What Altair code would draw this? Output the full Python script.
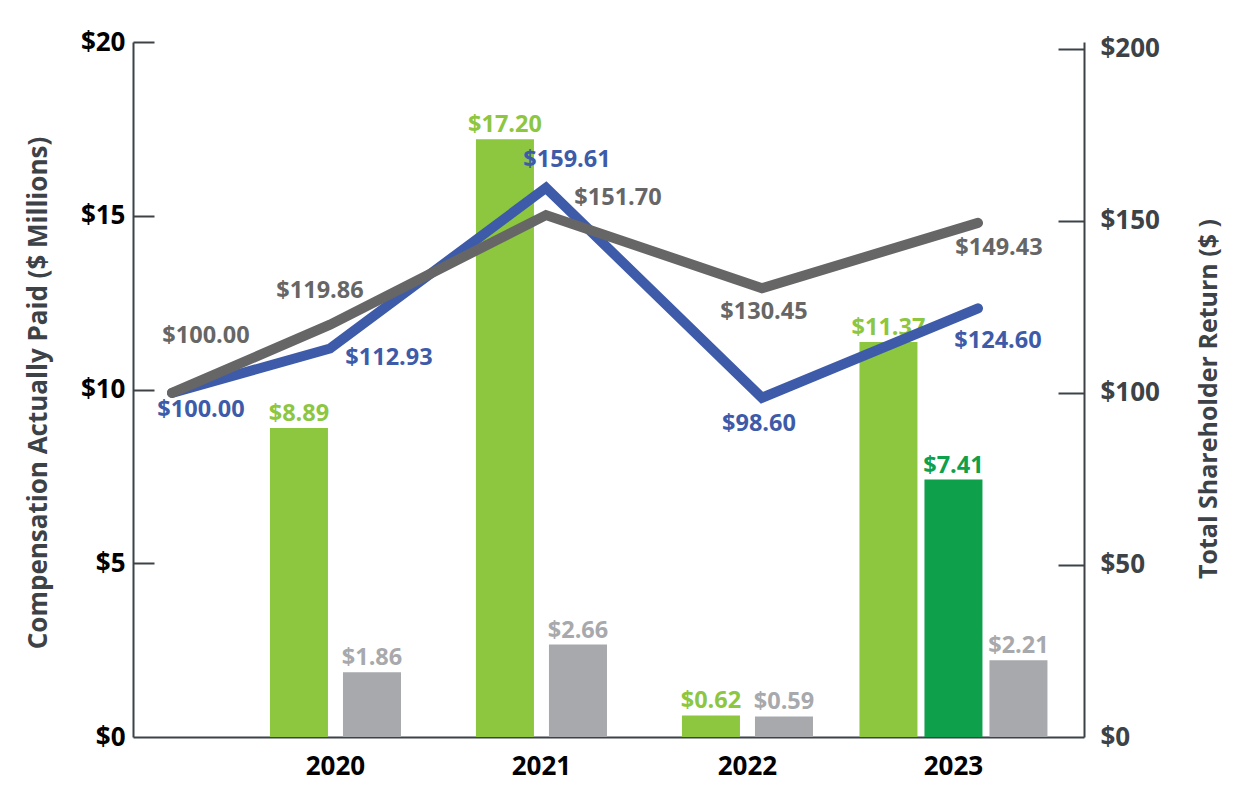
import altair as alt
import pandas as pd

# ---------------- data ----------------
years = ["2020", "2021", "2022", "2023"]
peo1_cap = [8.89, 17.20, 0.62, 11.37]
peo2_cap = [None, None, None, 7.41]
non_peo_cap = [1.86, 2.66, 0.59, 2.21]

tsr_points = ["Base", "2020", "2021", "2022", "2023"]
company_tsr = [100.00, 112.93, 159.61, 98.60, 124.60]
peer_tsr = [100.00, 119.86, 151.70, 130.45, 149.43]

SERIES = ["PEO 1", "PEO 2", "Average Non-PEO NEOs"]
COLORS = ["#8dc63f", "#0fa04b", "#a7a9ac"]
BLUE = "#3d5ba9"
DARK = "#666666"
AXIS = "#3d4247"
FONT = "Open Sans"
VAL_SIZE = 23.5

rows2, rows3 = [], []
for i, yr in enumerate(years):
    vals = [peo1_cap[i], peo2_cap[i], non_peo_cap[i]]
    recs = [
        {"year": yr, "series": s, "value": v, "label": f"${v:.2f}"}
        for s, v in zip(SERIES, vals)
        if v is not None
    ]
    (rows3 if len(recs) == 3 else rows2).extend(recs)
df2 = pd.DataFrame(rows2)
df3 = pd.DataFrame(rows3)

W, H = 951, 695

xband = alt.Scale(domain=years, paddingInner=0.0874, paddingOuter=0.352, align=0.748)
color_enc = alt.Color("series:N", scale=alt.Scale(domain=SERIES, range=COLORS), legend=None)
yscale_cap = alt.Scale(domain=[0, 20], nice=False, zero=True)

# --- group with two bars (2020-2022): carries the visible x axis and left axis
base2 = alt.Chart(df2).encode(
    x=alt.X(
        "year:N",
        scale=xband,
        axis=alt.Axis(
            title=None, labelAngle=0, ticks=False, tickSize=0, labelPadding=16,
            labelFont=FONT, labelFontSize=26, labelFontWeight="bold", labelColor="#000000",
            domain=True, domainColor=AXIS, domainWidth=2,
        ),
    ),
    xOffset=alt.XOffset(
        "series:N",
        scale=alt.Scale(domain=[SERIES[0], SERIES[2]], paddingInner=0.2055, paddingOuter=0.39),
    ),
    y=alt.Y(
        "value:Q",
        scale=yscale_cap,
        axis=alt.Axis(
            orient="left", values=[0, 5, 10, 15, 20], format="$.0f", grid=False,
            ticks=False, tickSize=0, labelPadding=8,
            labelFont=FONT, labelFontSize=26, labelFontWeight="bold", labelColor="#000000",
            domain=True, domainColor=AXIS, domainWidth=2,
            title="Compensation Actually Paid ($ Millions)",
            titleFont=FONT, titleFontSize=26, titleFontWeight="bold", titleColor=AXIS,
            titleAngle=270, titleX=-95, titleY=H / 2 + 3, titleAlign="center", titleBaseline="middle",
        ),
    ),
    color=color_enc,
)
grp2 = alt.layer(
    base2.mark_bar(),
    base2.mark_text(baseline="alphabetic", dy=-7, font=FONT, fontSize=VAL_SIZE, fontWeight="bold").encode(
        text="label:N"
    ),
)

# --- group with three bars (2023): carries inward ticks of the left axis
base3 = alt.Chart(df3).encode(
    x=alt.X("year:N", scale=xband, axis=None),
    xOffset=alt.XOffset("series:N", scale=alt.Scale(domain=SERIES, paddingInner=0.1077, paddingOuter=0)),
    y=alt.Y(
        "value:Q",
        scale=yscale_cap,
        axis=alt.Axis(
            orient="right", offset=-W, values=[5, 10, 15, 20], labels=False, domain=False,
            grid=False, ticks=True, tickSize=21, tickWidth=2, tickColor=AXIS, title=None,
        ),
    ),
    color=color_enc,
)
grp3 = alt.layer(
    base3.mark_bar(),
    base3.mark_text(baseline="alphabetic", dy=-7, font=FONT, fontSize=VAL_SIZE, fontWeight="bold").encode(
        text="label:N"
    ),
)

# --- TSR lines
xline = alt.Scale(domain=[0, 1, 4], range=[39, 197, 845])
yscale_tsr = alt.Scale(domain=[0, 202], nice=False, zero=True)


def tsr_frame(vals):
    return pd.DataFrame(
        {"idx": list(range(len(vals))), "point": tsr_points, "tsr": vals,
         "label": [f"${v:.2f}" for v in vals]}
    )


gray_offsets = [(34, -57), (-10, -34), (72, -17), (2, 24), (21, 25)]
blue_offsets = [(29, 17), (59, 10), (21, -28), (-3, 26), (20, 33)]

gray_base = alt.Chart(tsr_frame(peer_tsr)).encode(
    x=alt.X("idx:Q", scale=xline, axis=None),
    y=alt.Y(
        "tsr:Q",
        scale=yscale_tsr,
        axis=alt.Axis(
            orient="right", values=[0, 50, 100, 150, 200], format="$.0f", grid=False,
            ticks=False, tickSize=0, labelPadding=16,
            labelFont=FONT, labelFontSize=26, labelFontWeight="bold", labelColor=AXIS,
            domain=True, domainColor=AXIS, domainWidth=2,
            title="Total Shareholder Return ($ )",
            titleFont=FONT, titleFontSize=25, titleFontWeight="bold", titleColor=AXIS,
            titleAngle=270, titleX=124, titleY=H / 2 + 9, titleAlign="center", titleBaseline="middle",
        ),
    ),
)
blue_base = alt.Chart(tsr_frame(company_tsr)).encode(
    x=alt.X("idx:Q", scale=xline, axis=None),
    y=alt.Y(
        "tsr:Q",
        scale=yscale_tsr,
        axis=alt.Axis(
            orient="left", offset=-W, values=[50, 100, 150, 200], labels=False, domain=False,
            grid=False, ticks=True, tickSize=26, tickWidth=2, tickColor=AXIS, title=None,
        ),
    ),
)


def line_group(base, color, offsets):
    layers = [base.mark_line(strokeWidth=10, strokeCap="round", strokeJoin="miter", color=color)]
    for i, (dx, dy) in enumerate(offsets):
        layers.append(
            base.transform_filter(alt.datum.idx == i)
            .mark_text(dx=dx, dy=dy, baseline="middle", align="center",
                       font=FONT, fontSize=VAL_SIZE, fontWeight="bold", color=color)
            .encode(text="label:N")
        )
    return alt.layer(*layers)


blue_grp = line_group(blue_base, BLUE, blue_offsets)
gray_grp = line_group(gray_base, DARK, gray_offsets)

chart = (
    alt.layer(grp2, grp3, blue_grp, gray_grp)
    .resolve_scale(x="independent", y="independent", xOffset="independent")
    .properties(
        width=W,
        height=H,
        autosize=alt.AutoSizeParams(type="none"),
        padding={"left": 125, "top": 34, "right": 160, "bottom": 47},
        background="white",
    )
    .configure_view(stroke=None)
)

chart.save("out.html", embed_options={"renderer": "svg", "actions": False})
